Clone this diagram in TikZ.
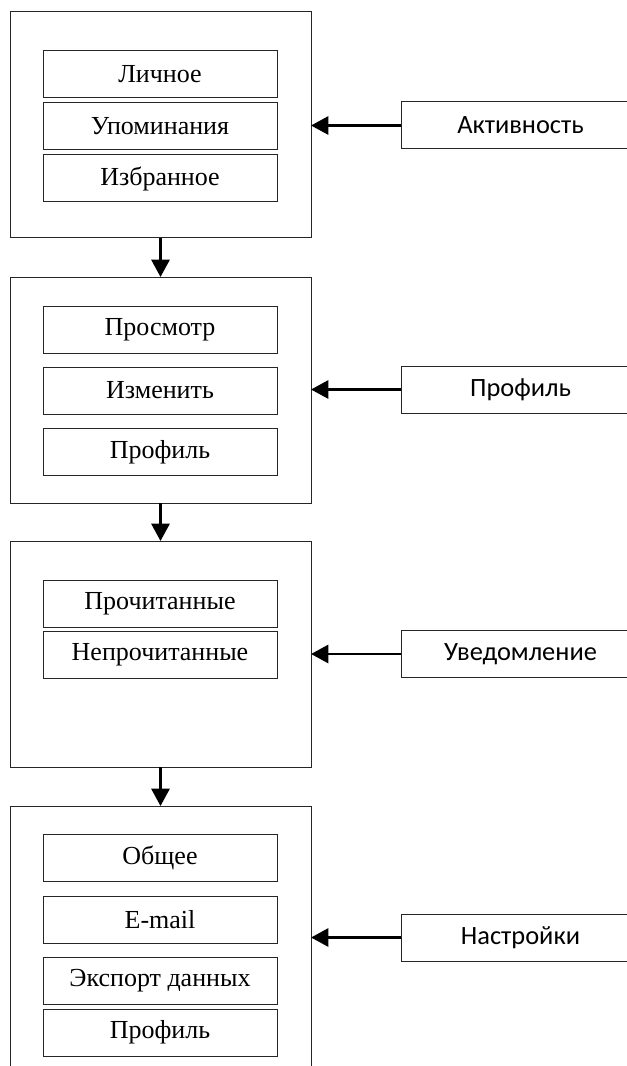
\documentclass[tikz,border=0pt]{standalone}
\usepackage{fontspec}
\setmainfont{Liberation Serif}
\newfontfamily\rsans{Carlito}
\usetikzlibrary{arrows.meta}
\begin{document}
\begin{tikzpicture}[x=0.75pt,y=-0.75pt,
  outerbox/.style={draw=black!85, line width=0.75pt, inner sep=0pt, outer sep=0pt,
    minimum width=225.75pt, minimum height=169.5pt},
  itembox/.style={draw=black!85, line width=0.75pt, inner sep=0pt, outer sep=0pt,
    minimum width=175.5pt, minimum height=35.25pt, font=\fontsize{19.5pt}{22pt}\selectfont},
  sidebox/.style={draw=black!85, line width=0.75pt, inner sep=0pt, outer sep=0pt,
    minimum width=179.25pt, minimum height=35.25pt, font=\rsans\fontsize{19.8pt}{22pt}\selectfont},
  link/.style={line width=2.2pt, -{Triangle[length=13pt,width=13.5pt]}}]
\useasboundingbox (0,0) rectangle (627,1066);
\clip (0,0) rectangle (627,1066);
\fill[white] (0,0) rectangle (627,1066);
% outer boxes
\node[outerbox] (b1) at (160.5,125) {};
\node[outerbox] (b2) at (160.5,390) {};
\node[outerbox] (b3) at (160.5,654) {};
\node[outerbox, minimum height=196.5pt] (b4) at (160.5,937) {};
% items
\node[itembox] (i11) at (160,74.5) {Личное};
\node[itembox] (i12) at (160,126.5) {Упоминания};
\node[itembox] (i13) at (160,178.5) {Избранное};
\node[itembox] (i21) at (160,329.5) {Просмотр};
\node[itembox] (i22) at (160,390.5) {Изменить};
\node[itembox] (i23) at (160,452) {Профиль};
\node[itembox] (i31) at (160,603.5) {Прочитанные};
\node[itembox] (i32) at (160,655) {Непрочитанные};
\node[itembox] (i41) at (160,857.5) {Общее};
\node[itembox] (i42) at (160,919.5) {E-mail};
\node[itembox] (i43) at (160,980.5) {Экспорт данных};
\node[itembox] (i44) at (160,1032.5) {Профиль};
% side boxes
\node[sidebox] (s1) at (520.5,125.5) {Активность};
\node[sidebox] (s2) at (520.5,389.5) {Профиль};
\node[sidebox] (s3) at (520.5,654) {Уведомление};
\node[sidebox] (s4) at (520.5,937.5) {Настройки};
% connectors
\draw[link] (s1.west) -- (s1.west -| b1.east);
\draw[link] (s2.west) -- (s2.west -| b2.east);
\draw[link] (s3.west) -- (s3.west -| b3.east);
\draw[link] (s4.west) -- (s4.west -| b4.east);
\draw[link] (b1.south) -- (b2.north);
\draw[link] (b2.south) -- (b3.north);
\draw[link] (b3.south) -- (b4.north);
\end{tikzpicture}
\end{document}
